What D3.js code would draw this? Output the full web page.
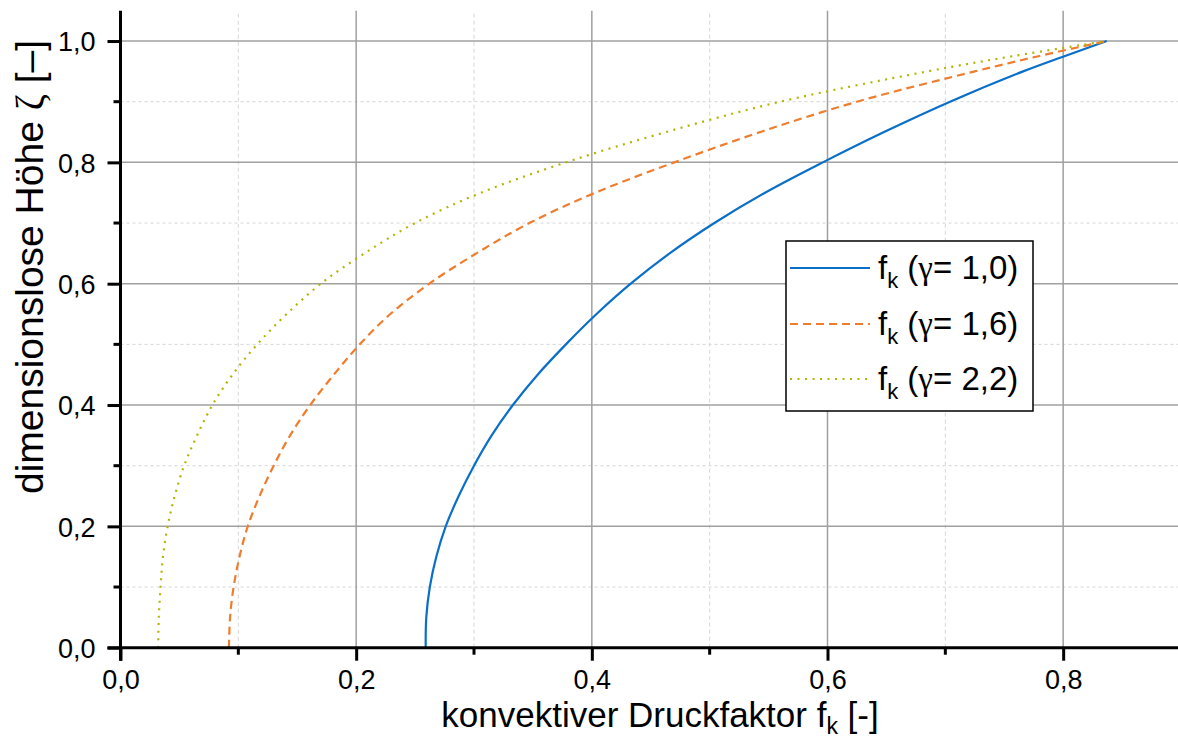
<!DOCTYPE html>
<html>
<head>
<meta charset="utf-8">
<script src="https://cdn.jsdelivr.net/npm/d3@7"></script>
<style>
  body { margin: 0; background: #fff; overflow: hidden; }
  svg { display: block; font-family: "Liberation Sans", Arial, sans-serif; }
  .greek { font-family: "Liberation Serif", "DejaVu Serif", serif; }
</style>
</head>
<body>
<div id="chart"></div>
<script>
// dimensionless height (zeta) and pressure factor f_k
const zeta = [0, 0.05, 0.1, 0.15, 0.2, 0.25, 0.3, 0.35, 0.4, 0.45, 0.5, 0.55, 0.6, 0.65, 0.7, 0.75, 0.8, 0.85, 0.9, 0.95, 0.975, 1.0];
const fkGamma10 = [0.259, 0.2595, 0.2625, 0.268, 0.276, 0.287, 0.300, 0.315, 0.333, 0.354, 0.378, 0.404, 0.433, 0.466, 0.504, 0.547, 0.596, 0.648, 0.704, 0.766, 0.801, 0.837];
const fkGamma16 = [0.092, 0.093, 0.096, 0.101, 0.108, 0.118, 0.130, 0.144, 0.161, 0.181, 0.203, 0.229, 0.262, 0.302, 0.347, 0.403, 0.470, 0.543, 0.625, 0.725, 0.779, 0.837];
const fkGamma22 = [0.032, 0.0325, 0.034, 0.036, 0.040, 0.046, 0.054, 0.065, 0.078, 0.095, 0.116, 0.141, 0.170, 0.207, 0.250, 0.306, 0.378, 0.463, 0.560, 0.685, 0.757, 0.837];
const gammaLabels = ['1,0', '1,6', '2,2'];
const xTicks = [0, 0.2, 0.4, 0.6, 0.8];
const yTicks = [0, 0.2, 0.4, 0.6, 0.8, 1.0];

const W = 1178, H = 739;
const colors = ['#0a6fc9', '#ef7d2e', '#b3b500'];
const dashes = [null, '8,5', '2,5.5'];

const x = d3.scaleLinear().domain([0, 0.9]).range([120.5, 1181]);
const y = d3.scaleLinear().domain([0, 1.05]).range([647.7, 10.7]);
const fmt = d => d3.format('.1f')(d).replace('.', ',');

const svg = d3.select('#chart').append('svg')
  .attr('width', W)
  .attr('height', H);

// grid: minor dashed, major solid
const minorX = d3.range(0.1, 0.9, 0.2);
const minorY = d3.range(0.1, 1.0, 0.2);
const grid = svg.append('g').attr('class', 'grid');
grid.selectAll('.mx').data(minorX).enter().append('line')
  .attr('x1', d => x(d)).attr('x2', d => x(d))
  .attr('y1', y(0)).attr('y2', y(1.05))
  .attr('stroke', '#d6d6d6').attr('stroke-width', 1).attr('stroke-dasharray', '4,3');
grid.selectAll('.my').data(minorY).enter().append('line')
  .attr('x1', x(0)).attr('x2', x(0.9))
  .attr('y1', d => y(d)).attr('y2', d => y(d))
  .attr('stroke', '#d6d6d6').attr('stroke-width', 1).attr('stroke-dasharray', '3,3');
grid.selectAll('.Mx').data(xTicks.slice(1)).enter().append('line')
  .attr('x1', d => x(d)).attr('x2', d => x(d))
  .attr('y1', y(0)).attr('y2', y(1.05))
  .attr('stroke', '#a0a0a0').attr('stroke-width', 1.5);
grid.selectAll('.My').data(yTicks.slice(1)).enter().append('line')
  .attr('x1', x(0)).attr('x2', x(0.9))
  .attr('y1', d => y(d)).attr('y2', d => y(d))
  .attr('stroke', '#a0a0a0').attr('stroke-width', 1.5);

// curves
const series = [fkGamma10, fkGamma16, fkGamma22];
const line = d3.line()
  .x(d => x(d[0]))
  .y(d => y(d[1]))
  .curve(d3.curveCatmullRom.alpha(0.5));

series.forEach((vals, i) => {
  svg.append('path')
    .datum(vals.map((v, j) => [v, zeta[j]]))
    .attr('fill', 'none')
    .attr('stroke', colors[i])
    .attr('stroke-width', 2.2)
    .attr('stroke-dasharray', dashes[i])
    .attr('d', line);
});

// axes
const xAxis = svg.append('g').attr('transform', `translate(0,${y(0)})`)
  .call(d3.axisBottom(x).tickValues(xTicks).tickSize(13).tickPadding(9).tickFormat(fmt));
const yAxis = svg.append('g').attr('transform', `translate(${x(0)},0)`)
  .call(d3.axisLeft(y).tickValues(yTicks).tickSize(13).tickPadding(12).tickFormat(fmt));
[xAxis, yAxis].forEach(a => {
  a.select('.domain').attr('stroke', '#000').attr('stroke-width', 3);
  a.selectAll('.tick line').attr('stroke', '#000').attr('stroke-width', 3);
  a.selectAll('.tick text').attr('fill', '#000').style('font-size', '27px');
});
xAxis.select('.domain').attr('d', `M${x(0) - 13},0H${x(0.9)}`);
yAxis.select('.domain').attr('d', `M0,${y(0) + 13}V${y(1.05)}`);
yAxis.selectAll('.tick text').attr('dy', '0.36em');

// minor ticks
xAxis.selectAll('.minor').data(minorX).enter().append('line')
  .attr('x1', d => x(d)).attr('x2', d => x(d))
  .attr('y1', 0).attr('y2', 7)
  .attr('stroke', '#000').attr('stroke-width', 3);
yAxis.selectAll('.minor').data(minorY).enter().append('line')
  .attr('y1', d => y(d)).attr('y2', d => y(d))
  .attr('x1', 0).attr('x2', -7)
  .attr('stroke', '#000').attr('stroke-width', 3);

// axis titles
const xTitle = svg.append('text')
  .attr('x', 660).attr('y', 727)
  .attr('text-anchor', 'middle')
  .style('font-size', '35px');
xTitle.append('tspan').text('konvektiver Druckfaktor f');
xTitle.append('tspan').attr('dy', 7).style('font-size', '23px').text('k');
xTitle.append('tspan').attr('dy', -7).text(' [-]');

const yTitle = svg.append('text')
  .attr('transform', 'translate(43,267) rotate(-90)')
  .attr('text-anchor', 'middle')
  .style('font-size', '39px');
yTitle.append('tspan').text('dimensionslose Höhe ');
yTitle.append('tspan').attr('class', 'greek').text('ζ');
yTitle.append('tspan').text(' [–]');

// legend
const legend = svg.append('g');
legend.append('rect')
  .attr('x', 786).attr('y', 241).attr('width', 247).attr('height', 170)
  .attr('fill', '#fff').attr('stroke', '#000').attr('stroke-width', 1.5);
const rowY = [268, 324, 379];
gammaLabels.forEach((g, i) => {
  legend.append('line')
    .attr('x1', 790).attr('x2', 870)
    .attr('y1', rowY[i]).attr('y2', rowY[i])
    .attr('stroke', colors[i]).attr('stroke-width', 2.2)
    .attr('stroke-dasharray', dashes[i]);
  const t = legend.append('text')
    .attr('x', 878).attr('y', rowY[i] + 11)
    .style('font-size', '33px');
  t.append('tspan').text('f');
  t.append('tspan').attr('dy', 9).style('font-size', '22px').text('k');
  t.append('tspan').attr('dy', -9).text(' (');
  t.append('tspan').attr('class', 'greek').text('γ');
  t.append('tspan').text(`= ${g})`);
});
</script>
</body>
</html>
